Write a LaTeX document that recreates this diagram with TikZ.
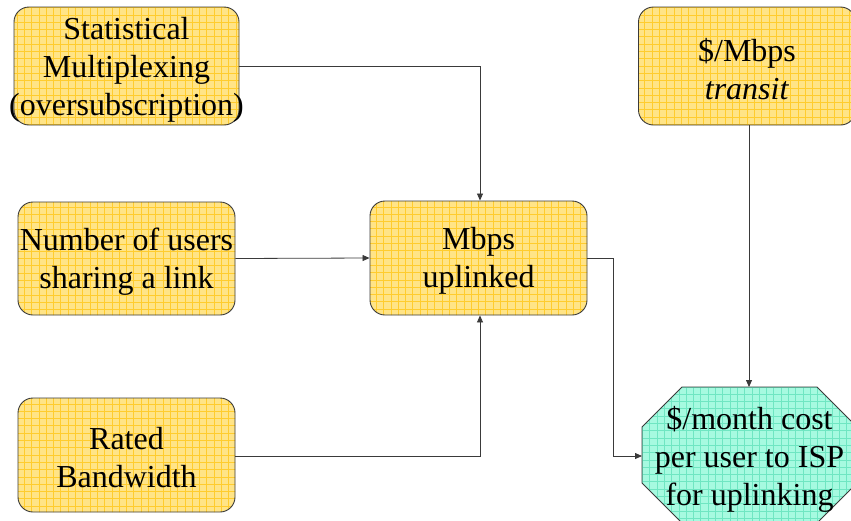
\documentclass[tikz,border=0pt]{standalone}
\usepackage{fontspec}
\setmainfont{Liberation Serif}
\usetikzlibrary{arrows.meta}
\definecolor{boxfill}{HTML}{FFE487}
\definecolor{boxgrid}{HTML}{FFCC2E}
\definecolor{octfill}{HTML}{A6FAE0}
\definecolor{octgrid}{HTML}{6FE6C2}
\definecolor{edgegray}{HTML}{3A3A3A}
\tikzset{
  gridfill/.style={path picture={
      \draw[#1,line width=0.7pt]
        ([shift={(-1pt,-1pt)}]path picture bounding box.south west)
        grid[step=7.3pt]
        ([shift={(1pt,1pt)}]path picture bounding box.north east);}},
  factor/.style={draw=edgegray,line width=0.9pt,fill=boxfill,gridfill=boxgrid,
      rounded corners=15pt,minimum width=#1,inner sep=0pt},
  factor/.default=217pt,
  label text/.style={align=center,inner sep=0pt,
      font=\fontsize{32pt}{38pt}\selectfont},
  link/.style={draw=edgegray,line width=0.8pt,-{Triangle[length=7pt,width=6pt]}},
}
\begin{document}
\begin{tikzpicture}[x=1pt,y=-1pt]
\useasboundingbox (0,0) rectangle (851,520);

% input factors
\node[factor=225pt,minimum height=118pt] (stat) at (126.5,66) {};
\node[label text] at ([yshift=-4pt]stat.center)
  {Statistical\\Multiplexing\\(oversubscription)};
\node[factor,minimum height=113pt] (users) at (126.5,258.5) {};
\node[label text] at ([yshift=-3pt]users.center)
  {Number of users\\sharing a link};
\node[factor,minimum height=114pt] (rated) at (126.5,455) {};
\node[label text] at ([yshift=-3pt]rated.center)
  {Rated\\Bandwidth};
\node[factor,minimum height=114pt] (mbps) at (478.5,258) {};
\node[label text] at ([yshift=-3pt]mbps.center)
  {Mbps\\uplinked};
\node[factor,minimum height=118pt] (transit) at (747,66) {};
\node[label text] at ([yshift=-3pt]transit.center)
  {\$/Mbps\\\textit{transit}};

% resulting cost (octagon)
\path[draw=edgegray,line width=0.9pt,fill=octfill,gridfill=octgrid]
  (682,387) -- (817,387) -- (857,427) -- (857,483) -- (817,523)
  -- (682,523) -- (642,483) -- (642,427) -- cycle;
\node[label text] (cost) at (749.5,459)
  {\$/month cost\\per user to ISP\\for uplinking};
\coordinate (costL) at (642,456);
\coordinate (costT) at (749,387);

% connectors
\draw[link] (stat.east |- 0,66) -| (mbps.north -| 480,0);
\draw[link] (users.east) -- (mbps.west);
\draw[link] (rated.east |- 0,456) -| (mbps.south -| 480,0);
\draw[link] (mbps.east) -| (613,456) -- (costL);
\draw[link] (transit.south -| 749,0) -- (costT);
\end{tikzpicture}
\end{document}
